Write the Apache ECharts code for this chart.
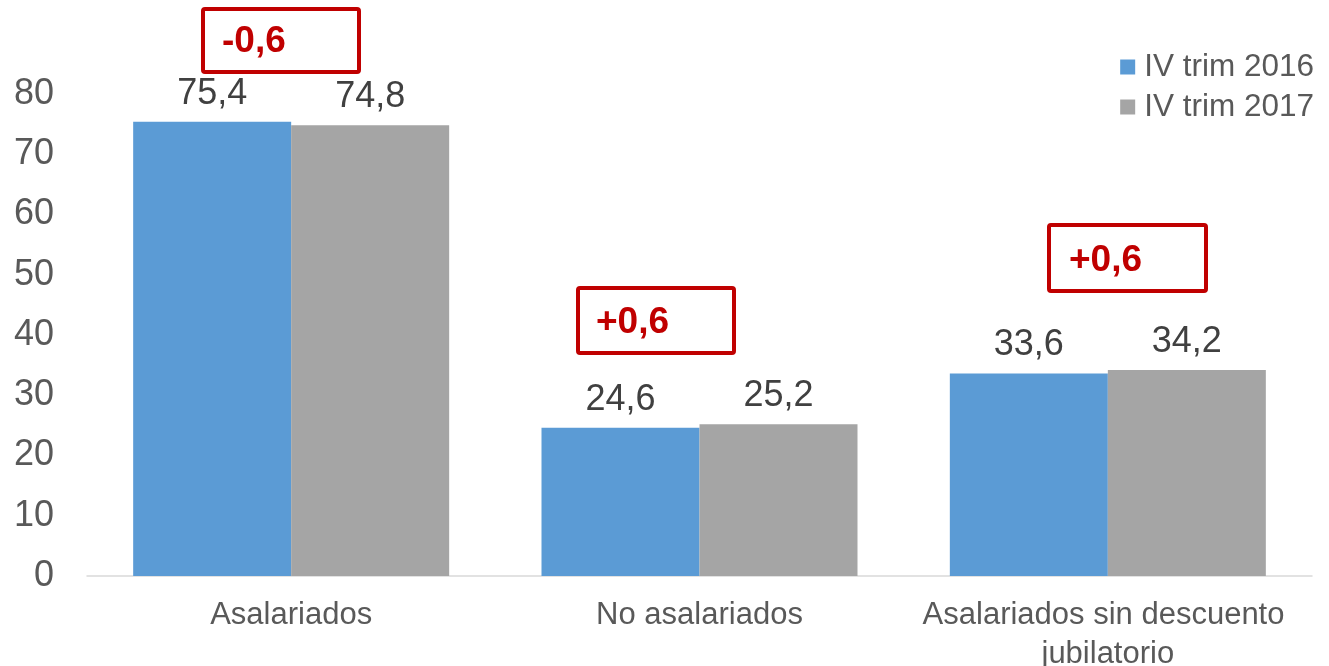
<!DOCTYPE html>
<html>
<head>
<meta charset="utf-8">
<script src="https://cdn.jsdelivr.net/npm/echarts@6/dist/echarts.min.js"></script>
<style>
html,body{margin:0;padding:0;background:#fff;}
#chart{width:1329px;height:666px;}
</style>
</head>
<body>
<div id="chart"></div>
<script>
var categories = ['Asalariados', 'No asalariados', 'Asalariados sin descuento jubilatorio'];
var seriesNames = ['IV trim 2016', 'IV trim 2017'];
var values2016 = [75.4, 24.6, 33.6];
var values2017 = [74.8, 25.2, 34.2];
var changes = ['-0,6', '+0,6', '+0,6'];
var yTicks = [0, 10, 20, 30, 40, 50, 60, 70, 80];

var FONT = 'Liberation Sans, Arial, sans-serif';
var chart = echarts.init(document.getElementById('chart'), null, {renderer: 'canvas'});

function fmt(v) { return String(v.toFixed(1)).replace('.', ','); }

var boxes = [
  {x: 203, y: 9, w: 156, h: 63, tx: 222, ty: 42},
  {x: 578, y: 288, w: 156, h: 65, tx: 596, ty: 323},
  {x: 1049, y: 225, w: 157, h: 66, tx: 1069, ty: 261}
];
var graphics = [];
boxes.forEach(function (b, i) {
  graphics.push({
    type: 'rect', shape: {x: b.x, y: b.y, width: b.w, height: b.h, r: 2},
    style: {fill: 'rgba(0,0,0,0)', stroke: '#C00000', lineWidth: 4}, z: 10
  });
  graphics.push({
    type: 'text', x: b.tx, y: b.ty,
    style: {text: changes[i], fill: '#C00000', font: 'bold 37px ' + FONT, textVerticalAlign: 'middle', textAlign: 'left'}, z: 11
  });
});

chart.setOption({
  animation: false,
  textStyle: {fontFamily: FONT},
  grid: {left: 87, right: 17, top: 94, bottom: 90, containLabel: false, outerBoundsMode: 'none'},
  legend: {
    orient: 'vertical', right: 10, top: 46,
    itemWidth: 15, itemHeight: 15, itemGap: 8,
    icon: 'rect',
    textStyle: {fontSize: 31.5, color: '#595959', fontFamily: FONT, padding: [0, 0, 0, 4]},
    data: seriesNames
  },
  xAxis: {
    type: 'category', data: categories,
    axisLine: {lineStyle: {color: '#D9D9D9', width: 1.5}},
    axisTick: {show: false},
    axisLabel: {
      fontSize: 31, color: '#595959', margin: 20, lineHeight: 39,
      width: 390, overflow: 'break', interval: 0
    }
  },
  yAxis: {
    type: 'value', min: 0, max: 80, interval: 10,
    axisLine: {show: false}, axisTick: {show: false},
    splitLine: {show: false},
    axisLabel: {fontSize: 36, color: '#595959', margin: 33}
  },
  series: [
    {
      name: seriesNames[0], type: 'bar', data: values2016,
      barWidth: 158, barGap: '0%',
      itemStyle: {color: '#5B9BD5'},
      label: {show: true, position: 'top', distance: 10, fontSize: 36, color: '#404040',
        formatter: function (p) { return fmt(p.value); }}
    },
    {
      name: seriesNames[1], type: 'bar', data: values2017,
      barWidth: 158, barGap: '0%',
      itemStyle: {color: '#A5A5A5'},
      label: {show: true, position: 'top', distance: 10, fontSize: 36, color: '#404040',
        formatter: function (p) { return fmt(p.value); }}
    }
  ],
  graphic: graphics
});
</script>
</body>
</html>
